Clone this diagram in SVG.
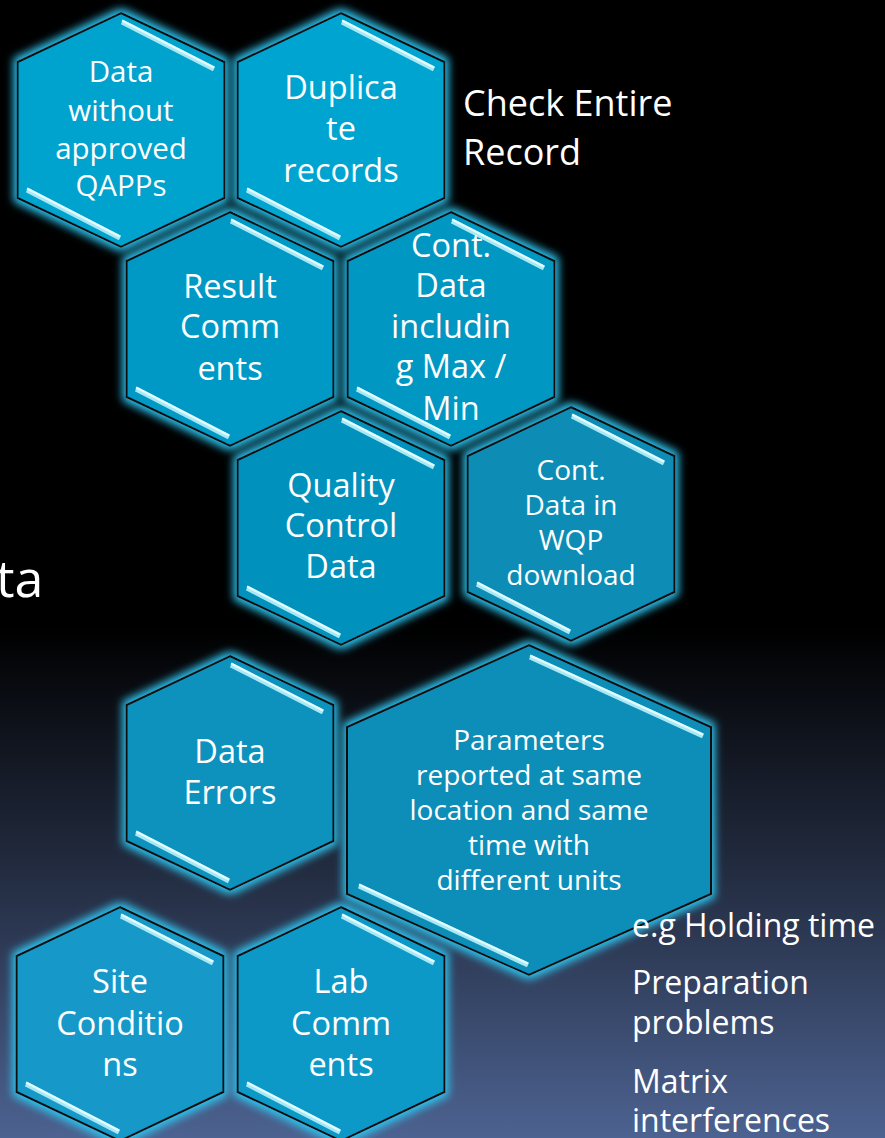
<svg xmlns="http://www.w3.org/2000/svg" width="885" height="1138" viewBox="0 0 885 1138">
<defs>
<linearGradient id="bg" x1="0" y1="0" x2="0" y2="1">
<stop offset="0" stop-color="#000"/>
<stop offset="0.55" stop-color="#000"/>
<stop offset="0.78" stop-color="#252f45"/>
<stop offset="1" stop-color="#4c6290"/>
</linearGradient>
<filter id="glow" x="-20%" y="-20%" width="140%" height="140%">
<feMorphology in="SourceAlpha" operator="dilate" radius="3" result="d"/>
<feGaussianBlur in="d" stdDeviation="4" result="b"/>
<feFlood flood-color="#2ec6f2"/>
<feComposite in2="b" operator="in" result="g"/>
<feMerge><feMergeNode in="g"/><feMergeNode in="SourceGraphic"/></feMerge>
</filter>
<path id="hx" d="M0,-117 L103.5,-68 L103.5,68 L0,117 L-103.5,68 L-103.5,-68 Z"/>
<g id="hlS" stroke-width="5" stroke-linecap="butt">
<line x1="1" y1="-108" x2="93" y2="-61" stroke="#a8e9f5"/>
<line x1="1" y1="-109.5" x2="93" y2="-62.5" stroke="#e4fbff" stroke-width="2"/>
<line x1="-94" y1="60" x2="-1" y2="108" stroke="#a8e9f5"/>
<line x1="-94" y1="58.5" x2="-1" y2="106.5" stroke="#e4fbff" stroke-width="2"/>
</g>
</defs>
<style>
.hex{stroke:#0b0b0b;stroke-width:2;filter:url(#glow)}
.t{font-family:"Open Sans","Liberation Sans",sans-serif;fill:#fff;text-anchor:middle}
.s{font-family:"Open Sans","Liberation Sans",sans-serif;fill:#fff}
</style>
<rect width="885" height="1138" fill="url(#bg)"/>

<text class="s" x="-4" y="597" font-size="52">ta</text>
<text class="s" x="463" y="116" font-size="36">Check Entire</text>
<text class="s" x="463" y="165" font-size="36">Record</text>

<g id="n1" transform="translate(121,130)">
<use href="#hx" class="hex" fill="#00a2ce"/>
<use href="#hlS"/>
<text class="t" font-size="29.5"><tspan x="0" y="-48">Data</tspan><tspan x="0" y="-9">without</tspan><tspan x="0" y="29">approved</tspan><tspan x="0" y="66">QAPPs</tspan></text>
</g>
<g id="n2" transform="translate(341,130)">
<use href="#hx" class="hex" fill="#00a4d0"/>
<use href="#hlS"/>
<text class="t" font-size="32.5"><tspan x="0" y="-31">Duplica</tspan><tspan x="0" y="10">te</tspan><tspan x="0" y="52">records</tspan></text>
</g>
<g id="n3" transform="translate(230,329)">
<use href="#hx" class="hex" fill="#0299c5"/>
<use href="#hlS"/>
<text class="t" font-size="32.5"><tspan x="0" y="-31">Result</tspan><tspan x="0" y="9">Comm</tspan><tspan x="0" y="51">ents</tspan></text>
</g>
<g id="n4" transform="translate(451,329)">
<use href="#hx" class="hex" fill="#0597c2"/>
<use href="#hlS"/>
<text class="t" font-size="32.5"><tspan x="0" y="-72">Cont.</tspan><tspan x="0" y="-32">Data</tspan><tspan x="0" y="9">includin</tspan><tspan x="0" y="49">g Max /</tspan><tspan x="0" y="91">Min</tspan></text>
</g>
<g id="n5" transform="translate(341,528)">
<use href="#hx" class="hex" fill="#0592bd"/>
<use href="#hlS"/>
<text class="t" font-size="32.5"><tspan x="0" y="-31">Quality</tspan><tspan x="0" y="9">Control</tspan><tspan x="0" y="50">Data</tspan></text>
</g>
<g id="n6" transform="translate(571,524)">
<use href="#hx" class="hex" fill="#088db5"/>
<use href="#hlS"/>
<text class="t" font-size="28"><tspan x="0" y="-44">Cont.</tspan><tspan x="0" y="-9">Data in</tspan><tspan x="0" y="26">WQP</tspan><tspan x="0" y="61">download</tspan></text>
</g>
<g id="n7" transform="translate(230,773)">
<use href="#hx" class="hex" fill="#0892bd"/>
<use href="#hlS"/>
<text class="t" font-size="32.5"><tspan x="0" y="-10">Data</tspan><tspan x="0" y="31">Errors</tspan></text>
</g>
<g id="n8" transform="translate(529,810)">
<path class="hex" fill="#098eb8" d="M0,-165 L182,-83 L182,84 L0,165 L-182,84 L-182,-83 Z"/>
<g stroke-width="5"><line x1="1" y1="-153" x2="174" y2="-74" stroke="#a8e9f5"/><line x1="1" y1="-154.5" x2="174" y2="-75.5" stroke="#e4fbff" stroke-width="2"/><line x1="-170" y1="76" x2="-1" y2="155" stroke="#a8e9f5"/><line x1="-170" y1="74.5" x2="-1" y2="153.5" stroke="#e4fbff" stroke-width="2"/></g>
<text class="t" font-size="28"><tspan x="0" y="-60">Parameters</tspan><tspan x="0" y="-25">reported at same</tspan><tspan x="0" y="10">location and same</tspan><tspan x="0" y="45">time with</tspan><tspan x="0" y="80">different units</tspan></text>
</g>
<g id="n9" transform="translate(120,1024)">
<use href="#hx" class="hex" fill="#1299c8"/>
<use href="#hlS"/>
<text class="t" font-size="32.5"><tspan x="0" y="-31">Site</tspan><tspan x="0" y="11">Conditio</tspan><tspan x="0" y="52">ns</tspan></text>
</g>
<g id="n10" transform="translate(341,1024)">
<use href="#hx" class="hex" fill="#1199c8"/>
<use href="#hlS"/>
<text class="t" font-size="32.5"><tspan x="0" y="-31">Lab</tspan><tspan x="0" y="11">Comm</tspan><tspan x="0" y="52">ents</tspan></text>
</g>

<text class="s" x="632" y="937" font-size="32">e.g Holding time</text>
<text class="s" font-size="32"><tspan x="632" y="994">Preparation</tspan><tspan x="632" y="1034">problems</tspan></text>
<text class="s" font-size="32"><tspan x="632" y="1093">Matrix</tspan><tspan x="632" y="1132">interferences</tspan></text>
<g id="connectors"/>
</svg>
